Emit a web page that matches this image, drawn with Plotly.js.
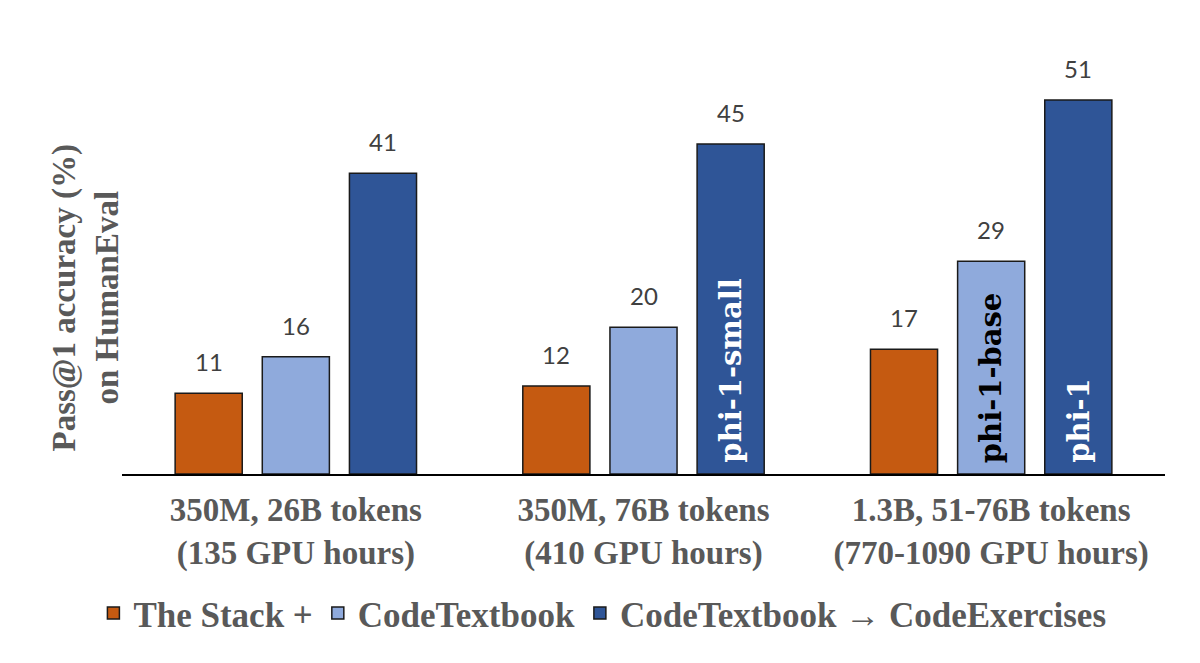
<!DOCTYPE html>
<html>
<head>
<meta charset="utf-8">
<script src="https://cdn.plot.ly/plotly-3.0.1.min.js"></script>
<style>html,body{margin:0;padding:0;background:#fff;}#chart{width:1200px;height:663px;}</style>
</head>
<body>
<div id="chart"></div>
<script>
var categories = ["350M, 26B tokens<br>(135 GPU hours)", "350M, 76B tokens<br>(410 GPU hours)", "1.3B, 51-76B tokens<br>(770-1090 GPU hours)"];
var seriesNames = ["The Stack +", "CodeTextbook", "CodeTextbook \u2192 CodeExercises"];
var stackValues = [11, 12, 17];
var textbookValues = [16, 20, 29];
var exercisesValues = [41, 45, 51];
// model names shown inside bars, indexed [series][category]
var modelNames = [
  ["", "", ""],
  ["", "", "phi-1-base"],
  ["", "phi-1-small", "phi-1"]
];
var colors = ["#C55A11", "#8FAADC", "#2F5597"];
var insideTextColors = ["#ffffff", "#000000", "#ffffff"];

var allValues = [stackValues, textbookValues, exercisesValues];
var bargap = 0.248;
var bargroupgap = 0.23;

var traces = allValues.map(function (vals, j) {
  return {
    type: "bar",
    name: seriesNames[j],
    x: categories,
    y: vals,
    marker: {color: colors[j], line: {color: "#1a1a1a", width: 1.5}},
    hoverinfo: "y"
  };
});

var annotations = [];
var slot = (1 - bargap) / allValues.length;
allValues.forEach(function (vals, j) {
  vals.forEach(function (v, i) {
    var xpos = i + (j - (allValues.length - 1) / 2) * slot;
    annotations.push({
      x: xpos, y: v, xref: "x", yref: "y",
      text: String(v), showarrow: false,
      yanchor: "bottom", yshift: 15,
      font: {family: "Lato, 'Open Sans', sans-serif", size: 24, color: "#404040"}
    });
    var lbl = modelNames[j][i];
    if (lbl) {
      annotations.push({
        x: xpos, y: 0, xref: "x", yref: "y",
        text: lbl, showarrow: false, textangle: -90,
        yanchor: "bottom", yshift: 9,
        font: {family: "'DejaVu Serif', serif", size: 29, color: insideTextColors[j], weight: "bold"}
      });
    }
  });
});

annotations.push({
  x: -0.035, y: 0.40, xref: "paper", yref: "paper",
  text: "<b>Pass@1 accuracy (%)<br>on HumanEval</b>", showarrow: false, textangle: -90,
  xanchor: "center", yanchor: "middle",
  font: {family: "'Liberation Serif', serif", size: 33, color: "#595959"}
});

var layout = {
  width: 1200, height: 663,
  margin: {l: 122, r: 35, t: 34, b: 189},
  paper_bgcolor: "#ffffff", plot_bgcolor: "#ffffff",
  barmode: "group", bargap: bargap, bargroupgap: bargroupgap,
  showlegend: true,
  legend: {
    orientation: "h", xref: "container", yref: "container",
    x: 0.502, xanchor: "center", y: 0.075, yanchor: "middle",
    font: {family: "'Liberation Serif', serif", size: 35, color: "#595959", weight: "bold"},
    itemclick: false
  },
  xaxis: {
    type: "category",
    showline: true, linecolor: "#000000", linewidth: 1.5,
    showgrid: false, zeroline: false, ticks: "",
    ticklabelstandoff: 6,
    tickfont: {family: "'Liberation Serif', serif", size: 33, color: "#595959", weight: "bold"}
  },
  yaxis: {
    range: [0, 60], showticklabels: false, showgrid: false, zeroline: false, showline: false, ticks: ""
  },
  annotations: annotations
};

Plotly.newPlot("chart", traces, layout, {displayModeBar: false, staticPlot: true});
</script>
</body>
</html>
